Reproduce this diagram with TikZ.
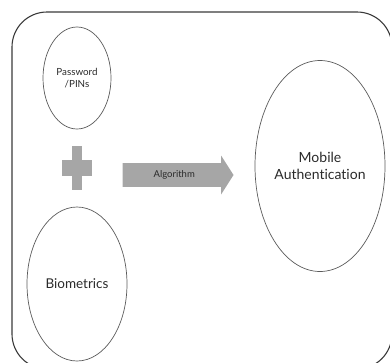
\documentclass[tikz,border=0pt]{standalone}
\usepackage{fontspec}
\setmainfont[Ligatures=NoCommon]{Lato}
\usepackage{tikz}
\usetikzlibrary{shapes.geometric, shapes.arrows, arrows.meta, positioning}
\definecolor{linegray}{HTML}{5A5A5A}
\definecolor{framegray}{HTML}{3A3A3A}
\definecolor{fillgray}{HTML}{A6A6A6}
\definecolor{textgray}{HTML}{2A2A2A}

\begin{document}
\begin{tikzpicture}[
  x=1pt, y=-1pt,
  font=\small,
  oval/.style={draw=linegray, line width=0.7pt, ellipse, inner sep=0pt, align=center, text=textgray},
  frame/.style={draw=framegray, line width=1.1pt, rounded corners=35pt},
  bigarrow/.style={single arrow, fill=fillgray, draw=none, text=textgray,
    single arrow head extend=7.45pt, single arrow tip angle=115,
    text height=6pt, text depth=2pt, inner ysep=7.7pt, inner xsep=0pt,
    minimum height=111pt, font=\fontsize{9.5}{10}\selectfont}
]
\useasboundingbox (0,0) rectangle (390,362);
\draw[frame] (12,12) rectangle (392,369);

\node[oval, minimum width=68pt, minimum height=102pt, font=\fontsize{9.8}{11.5}\selectfont] (pwd) at (77,78) {Password\\/PINs};
\node[oval, minimum width=100pt, minimum height=154pt, font=\fontsize{13.5}{15}\selectfont] (bio) at (77,284) {Biometrics};
\node[oval, minimum width=130pt, minimum height=211pt, font=\fontsize{14}{17}\selectfont] (mobile) at (320,166) {Mobile\\Authentication};

% plus sign between the two inputs
\coordinate (plus) at (77,168);
\fill[fillgray] ([xshift=-4.7pt, yshift=22pt]plus) rectangle ([xshift=4.7pt, yshift=-22pt]plus);
\fill[fillgray] ([xshift=-14.7pt, yshift=7.6pt]plus) rectangle ([xshift=14.7pt, yshift=-7.6pt]plus);

\node[bigarrow, anchor=west] (algo) at (122.3,175) {Algorithm};
\end{tikzpicture}
\end{document}
